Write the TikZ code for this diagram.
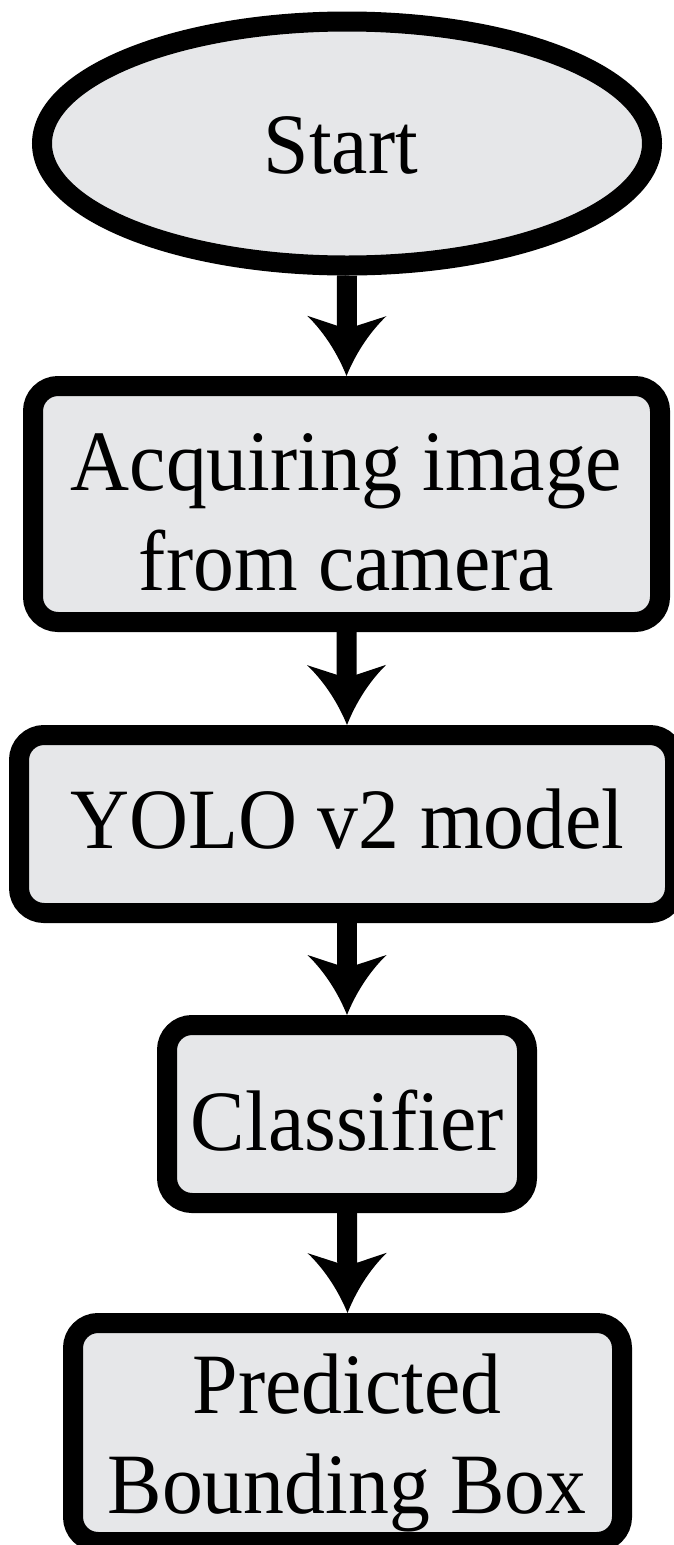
\documentclass[tikz,border=0pt]{standalone}
\usepackage{fontspec}
\setmainfont{Liberation Serif}[FakeStretch=0.95]
\usetikzlibrary{arrows.meta,shapes.geometric}
\definecolor{boxfill}{RGB}{230,231,233}
\pgfdeclarearrow{
  name = FlowTip,
  setup code = {
    \pgfarrowssettipend{0pt}
    \pgfarrowssetlineend{-40pt}
    \pgfarrowssetbackend{-60pt}
    \pgfarrowsupperhullpoint{0pt}{0pt}
    \pgfarrowsupperhullpoint{-60pt}{39.5pt}
  },
  drawing code = {
    \pgfpathmoveto{\pgfqpoint{0pt}{0pt}}
    \pgfpathcurveto{\pgfqpoint{-20pt}{8pt}}{\pgfqpoint{-42pt}{21pt}}{\pgfqpoint{-60pt}{39.5pt}}
    \pgfpathlineto{\pgfqpoint{-47pt}{0pt}}
    \pgfpathlineto{\pgfqpoint{-60pt}{-39.5pt}}
    \pgfpathcurveto{\pgfqpoint{-42pt}{-21pt}}{\pgfqpoint{-20pt}{-8pt}}{\pgfqpoint{0pt}{0pt}}
    \pgfpathclose
    \pgfusepathqfill
  }
}
\begin{document}
\begin{tikzpicture}[x=1pt,y=-1pt,
  shapebox/.style={draw=black, line width=20pt, fill=boxfill, rounded corners=25pt, inner sep=0pt},
  ovalbox/.style={draw=black, line width=20pt, fill=boxfill, ellipse, inner sep=0pt},
  txt/.style={font=\fontsize{86}{100}\selectfont, inner sep=0pt, anchor=base, text=black},
  flow/.style={line width=20pt, draw=black, -FlowTip}]
\useasboundingbox (0,0) rectangle (673,1545);
% shapes
\node[ovalbox, minimum width=610pt, minimum height=244pt] (start) at (347,143.5) {};
\node[shapebox, minimum width=627pt, minimum height=236pt] (acq) at (346.5,504) {};
\node[shapebox, minimum width=656pt, minimum height=178pt] (yolo) at (347,824) {};
\node[shapebox, minimum width=360pt, minimum height=178pt] (cls) at (347,1114) {};
\node[shapebox, minimum width=549pt, minimum height=219pt] (pbb) at (347.5,1432.5) {};
% texts
\node[txt] (startT) at (341,173) {Start};
\node[txt] (acqA) at (346.5,490) {Acquiring image};
\node[txt] (acqB) at (346.5,590) {from camera};
\node[txt] (yoloT) at (347.5,848) {YOLO v2 model};
\node[txt] (clsT) at (347.5,1150) {Classifier};
\node[txt] (pbbA) at (347,1413) {Predicted};
\node[txt] (pbbB) at (347,1513) {Bounding Box};
% connectors
\draw[flow] (start.south) -- (acq.north);
\draw[flow] (acq.south) -- (yolo.north);
\draw[flow] (yolo.south) -- (cls.north);
\draw[flow] (cls.south) -- (pbb.north);
\end{tikzpicture}
\end{document}
